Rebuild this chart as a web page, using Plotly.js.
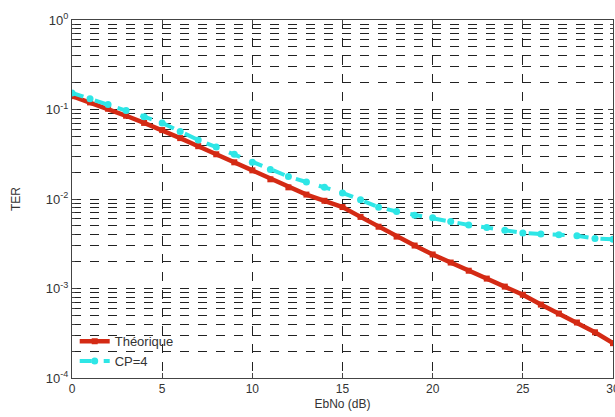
<!DOCTYPE html>
<html>
<head>
<meta charset="utf-8">
<script src="https://cdn.plot.ly/plotly-3.0.1.min.js"></script>
<style>html,body{margin:0;padding:0;background:#fff;}#chart{width:615px;height:417px;}</style>
</head>
<body>
<div id="chart"></div>
<script>
const ebno = [0,1,2,3,4,5,6,7,8,9,10,11,12,13,14,15,16,17,18,19,20,21,22,23,24,25,26,27,28,29,30];
const terTheorique = [0.141,0.120,0.102,0.0851,0.0708,0.0589,0.0479,0.0389,0.0316,0.0257,0.0209,0.0166,0.0135,0.0112,0.00955,0.00813,0.00631,0.0049,0.0038,0.00302,0.0024,0.00195,0.00158,0.00129,0.00105,0.000851,0.000661,0.000525,0.000417,0.000324,0.000245];
const terCP4 = [0.153,0.132,0.1135,0.0977,0.0832,0.0708,0.0569,0.0457,0.038,0.0316,0.0257,0.0214,0.0178,0.0155,0.0135,0.0117,0.0098,0.0081,0.00724,0.0066,0.00617,0.00562,0.00513,0.00479,0.00447,0.00417,0.00407,0.00398,0.00389,0.00363,0.00355];
const seriesNames = ["Théorique", "CP=4"];
const yTickVals = [1e-4, 1e-3, 1e-2, 1e-1, 1];
const yTickText = ["10<sup>-4</sup>", "10<sup>-3</sup>", "10<sup>-2</sup>", "10<sup>-1</sup>", "10<sup>0</sup>"];

const font = {family: "Liberation Sans, Arial, sans-serif", size: 12, color: "#333"};
const traces = [
  {x: ebno, y: terTheorique, name: seriesNames[0], type: "scatter", mode: "lines+markers",
   line: {color: "#d42a14", width: 4.5}, marker: {color: "#d42a14", size: 6, symbol: "square"}},
  {x: ebno, y: terCP4, name: seriesNames[1], type: "scatter", mode: "lines+markers",
   line: {color: "#2ee6e6", width: 4, dash: "dash"}, marker: {color: "#2ee6e6", size: 7, symbol: "circle"}}
];
const layout = {
  width: 615, height: 417,
  margin: {l: 72, r: 2, t: 20, b: 39},
  paper_bgcolor: "#fff", plot_bgcolor: "#fff",
  font: font,
  showlegend: true,
  legend: {x: 0.005, y: 0.005, xanchor: "left", yanchor: "bottom", bgcolor: "rgba(255,255,255,0)",
           font: {family: font.family, size: 13, color: "#333"}, tracegroupgap: 0},
  xaxis: {
    range: [0, 30], dtick: 5, tick0: 0,
    showline: true, linecolor: "#444", linewidth: 1, mirror: "ticks",
    ticks: "inside", ticklen: 5, tickcolor: "#444",
    showgrid: true, gridcolor: "#222", griddash: "dash", gridwidth: 1,
    zeroline: false, ticklabeloverflow: "allow",
    title: {text: "EbNo (dB)", font: {family: font.family, size: 12, color: "#333"}, standoff: 4},
    tickfont: {family: font.family, size: 12, color: "#333"}
  },
  yaxis: {
    type: "log", range: [-4, 0],
    tickmode: "array", tickvals: yTickVals, ticktext: yTickText,
    showline: true, linecolor: "#444", linewidth: 1, mirror: "ticks",
    ticks: "inside", ticklen: 5, tickcolor: "#444",
    showgrid: true, gridcolor: "#222", griddash: "dash", gridwidth: 1,
    minor: {dtick: "D1", tickmode: "linear", showgrid: true, gridcolor: "#222", griddash: "dash", ticks: "inside", ticklen: 3, tickcolor: "#444"},
    zeroline: false,
    title: {text: "TER", font: {family: font.family, size: 12, color: "#333"}, standoff: 22},
    tickfont: {family: font.family, size: 13, color: "#333"}
  }
};
Plotly.newPlot("chart", traces, layout, {staticPlot: true, displayModeBar: false});
</script>
</body>
</html>
